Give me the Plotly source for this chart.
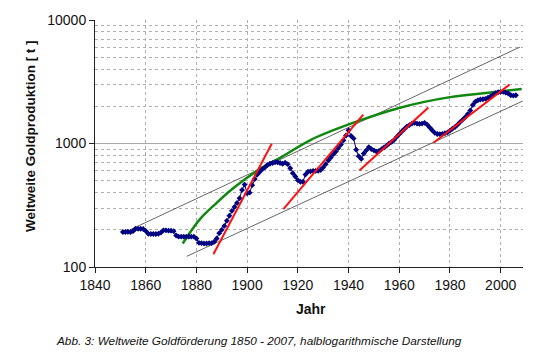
import plotly.graph_objects as go

years = list(range(1851, 2007))
production = [
    192, 192, 193, 192, 195, 204, 204, 204, 203, 196,          # 1851-1860
    186, 185, 185, 185, 186, 190, 198, 198, 197, 197,          # 1861-1870
    195, 180, 176, 176, 176, 176, 176, 176, 176, 170,          # 1871-1880
    157, 156, 155, 155, 156, 156, 160, 170, 188, 200,          # 1881-1890
    215, 237, 260, 285, 306, 330, 360, 420, 465, 395,          # 1891-1900
    400, 460, 515, 560, 590, 620, 640, 670, 685, 695,          # 1901-1910
    705, 705, 695, 685, 700, 680, 630, 575, 540, 505,          # 1911-1920
    490, 490, 560, 590, 595, 600, 600, 600, 610, 640,          # 1921-1930
    680, 730, 770, 820, 860, 920, 980, 1060, 1160, 1280,       # 1931-1940
    1150, 1100, 890, 790, 750, 830, 880, 935, 900, 880,        # 1941-1950
    860, 870, 900, 930, 960, 1000, 1030, 1070, 1130, 1190,     # 1951-1960
    1250, 1310, 1370, 1410, 1450, 1470, 1450, 1440, 1450, 1470,  # 1961-1970
    1420, 1350, 1280, 1220, 1195, 1190, 1195, 1210, 1230, 1270,  # 1971-1980
    1320, 1360, 1420, 1490, 1560, 1630, 1730, 1850, 2050, 2180,  # 1981-1990
    2240, 2270, 2280, 2300, 2350, 2400, 2480, 2560, 2600, 2620,  # 1991-2000
    2620, 2580, 2540, 2460, 2440, 2460,                          # 2001-2006
]

upper_trend_x = [1853.8, 2007.7]
upper_trend_y = [200, 6050]
lower_trend_x = [1876.2, 2008.7]
lower_trend_y = [122, 2207]

green_x = [1874.6, 1881.4, 1888.0, 1894.6, 1904.4, 1913.0, 1924.8, 1940.6, 1960.3, 1980.0, 1999.8, 2008.3]
green_y = [155, 244, 331, 436, 611, 765, 1062, 1440, 1950, 2375, 2640, 2767]

red_x = [[1886.7, 1909.7], [1914.3, 1945.8], [1944.3, 1971.5], [1973.5, 2003.5]]
red_y = [[127, 995], [294, 1710], [604, 1955], [1014, 3000]]

x_ticks = [1840, 1860, 1880, 1900, 1920, 1940, 1960, 1980, 2000]
y_ticks = [100, 1000, 10000]
y_minor = [200, 300, 400, 500, 600, 700, 800, 900,
           2000, 3000, 4000, 5000, 6000, 7000, 8000, 9000]

FONT = "Liberation Sans, Arial, sans-serif"

fig = go.Figure()

fig.add_trace(go.Scatter(x=upper_trend_x, y=upper_trend_y, mode="lines",
                         line=dict(color="#404040", width=0.8), showlegend=False))
fig.add_trace(go.Scatter(x=lower_trend_x, y=lower_trend_y, mode="lines",
                         line=dict(color="#404040", width=0.8), showlegend=False))
fig.add_trace(go.Scatter(x=green_x, y=green_y, mode="lines",
                         line=dict(color="#118811", width=2.5, shape="spline"),
                         showlegend=False))
fig.add_trace(go.Scatter(x=years, y=production, mode="lines+markers",
                         line=dict(color="#000080", width=1),
                         marker=dict(symbol="diamond", size=4.5, color="#000080"),
                         showlegend=False))
for rx, ry in zip(red_x, red_y):
    fig.add_trace(go.Scatter(x=rx, y=ry, mode="lines",
                             line=dict(color="#ff1010", width=2), showlegend=False))

fig.update_layout(
    width=550, height=364,
    margin=dict(l=95, r=27, t=16, b=97),
    paper_bgcolor="white", plot_bgcolor="white",
    font=dict(family=FONT, size=14, color="#111111"),
    xaxis=dict(
        range=[1840, 2008.8], tickvals=x_ticks, ticktext=[str(v) for v in x_ticks],
        showgrid=True, gridcolor="#b0b0b0", griddash="dot", gridwidth=1,
        showline=True, linecolor="#222222", linewidth=1,
        ticks="outside", ticklen=5, tickcolor="#222222",
        zeroline=False, tickfont=dict(size=14),
    ),
    yaxis=dict(
        type="log", range=[2, 4], tickvals=y_ticks, ticktext=[str(v) for v in y_ticks],
        showgrid=True, gridcolor="#a8a8a8", gridwidth=1,
        showline=True, linecolor="#222222", linewidth=1,
        ticks="outside", ticklen=5, tickcolor="#222222",
        zeroline=False, tickfont=dict(size=14),
        minor=dict(tickvals=y_minor, showgrid=True, griddash="dot",
                   gridcolor="#b0b0b0", gridwidth=1, ticks=""),
    ),
    annotations=[
        dict(text="<b>Weltweite Goldproduktion [ t ]</b>", textangle=-90,
             xref="paper", yref="paper", x=(30 - 95) / 428, y=(267 - 134) / 251,
             xanchor="center", yanchor="middle", showarrow=False,
             font=dict(size=13.5, color="#111111")),
        dict(text="<b>Jahr</b>",
             xref="paper", yref="paper", x=(311 - 95) / 428, y=(267 - 310) / 251,
             xanchor="center", yanchor="middle", showarrow=False,
             font=dict(size=14, color="#111111")),
        dict(text="<i>Abb. 3: Weltweite Goldförderung 1850 - 2007, halblogarithmische Darstellung</i>",
             xref="paper", yref="paper", x=(259 - 95) / 428, y=(267 - 341.7) / 251,
             xanchor="center", yanchor="middle", showarrow=False,
             font=dict(size=11.8, color="#111111")),
    ],
)

fig.write_html("out.html", config={"displayModeBar": False},
               post_script="document.body.style.margin='0';")
